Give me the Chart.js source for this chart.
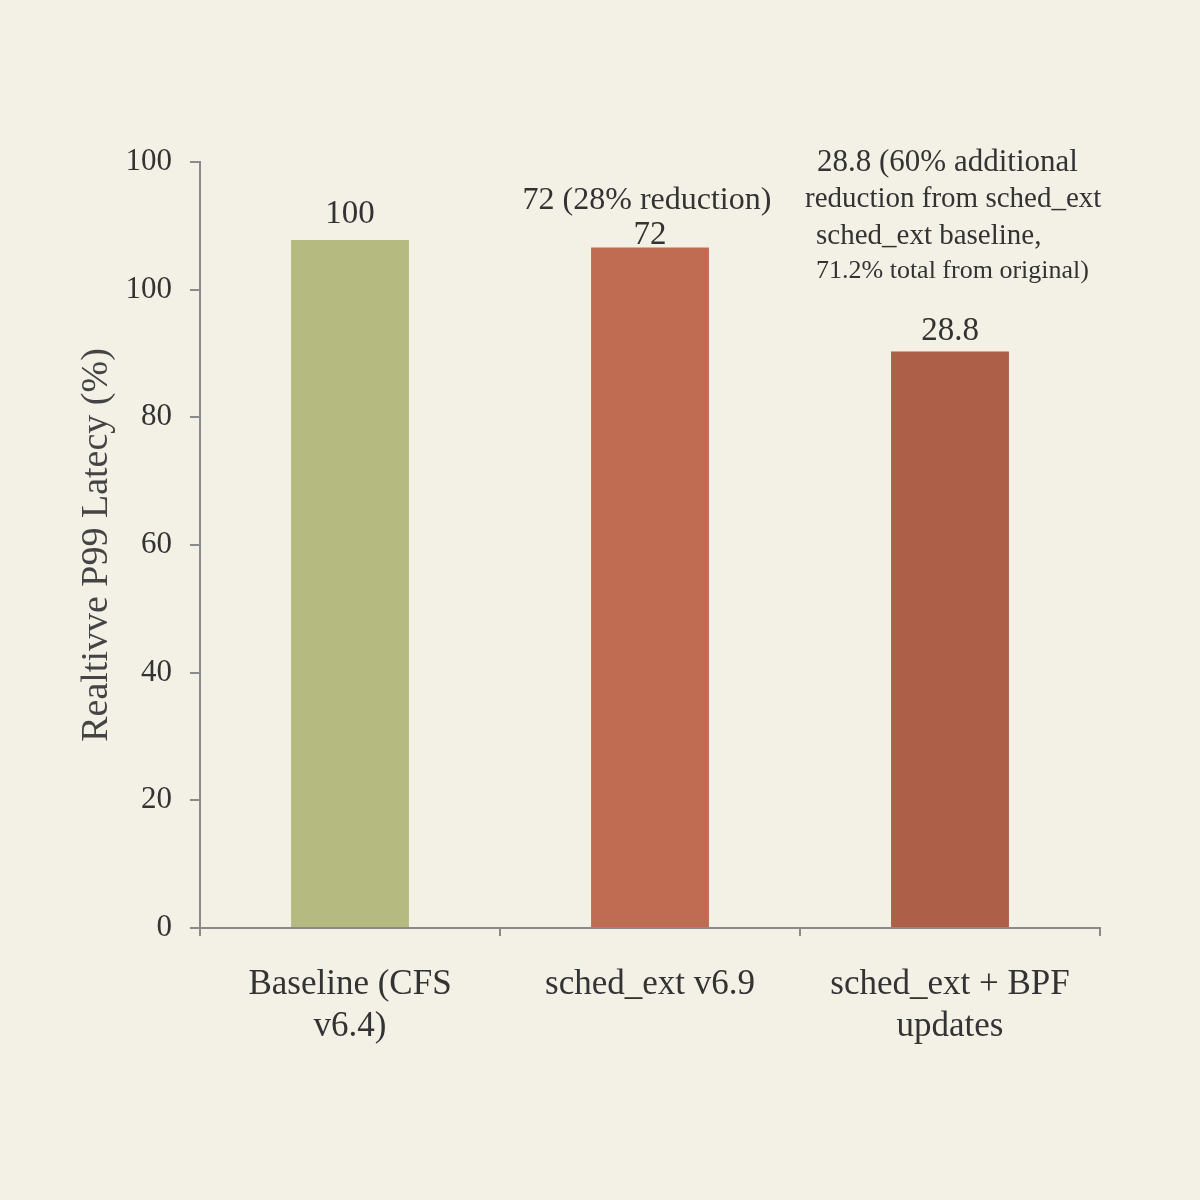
<!DOCTYPE html>
<html>
<head>
<meta charset="utf-8">
<script src="https://cdn.jsdelivr.net/npm/chart.js@4"></script>
<style>
  html, body { margin: 0; padding: 0; background: #f3f0e6; }
  #wrap { width: 1200px; height: 1200px; }
</style>
</head>
<body>
<div id="wrap"><canvas id="c" width="1200" height="1200"></canvas></div>
<script>
const categories = [["Baseline (CFS", "v6.4)"], "sched_ext v6.9", ["sched_ext + BPF", "updates"]];
const barValues = [107.8, 106.6, 90.3];
const valueLabels = ["100", "72", "28.8"];
const yTickValues = [0, 20, 40, 60, 80, 100, 120];
const yTickLabels = ["0", "20", "40", "60", "80", "100", "100"];
const noteSecond = ["72 (28% reduction)"];
const noteThird = ["28.8 (60% additional", "reduction from sched_ext", "sched_ext baseline,", "71.2% total from original)"];
const barColors = ["#b5ba80", "#c06c53", "#ad5f47"];

const SERIF = "'Liberation Serif', 'DejaVu Serif', serif";
const TEXT = "#333333";

const notesPlugin = {
  id: 'notes',
  afterDatasetsDraw(chart) {
    const ctx = chart.ctx;
    const meta = chart.getDatasetMeta(0);
    ctx.save();
    ctx.fillStyle = TEXT;
    ctx.textBaseline = 'middle';
    ctx.textAlign = 'center';
    ctx.font = "33px " + SERIF;
    const offs = [26, 12, 20];
    meta.data.forEach((bar, i) => {
      ctx.fillText(valueLabels[i], bar.x, bar.y - offs[i]);
    });
    const b1 = meta.data[1];
    ctx.font = "32px " + SERIF;
    ctx.fillText(noteSecond[0], b1.x - 3, b1.y - 47);
    const b2 = meta.data[2];
    const lines = [
      {dx: -133, dy: -189, size: 31},
      {dx: -145, dy: -152, size: 29},
      {dx: -134, dy: -115, size: 29},
      {dx: -134, dy: -80, size: 26}
    ];
    ctx.textAlign = 'left';
    lines.forEach((l, i) => {
      ctx.font = l.size + "px " + SERIF;
      ctx.fillText(noteThird[i], b2.x + l.dx, b2.y + l.dy);
    });
    ctx.restore();
  }
};

new Chart(document.getElementById('c'), {
  type: 'bar',
  data: {
    labels: categories,
    datasets: [{
      data: barValues,
      backgroundColor: barColors,
      borderWidth: 0,
      barPercentage: 0.393,
      categoryPercentage: 1.0
    }]
  },
  options: {
    responsive: false,
    animation: false,
    devicePixelRatio: 1,
    layout: { padding: { left: 60, top: 162, right: 100, bottom: 40 } },
    plugins: { legend: { display: false }, tooltip: { enabled: false } },
    scales: {
      x: {
        grid: { display: true, drawOnChartArea: false, drawTicks: true, tickLength: 8, color: '#8a8a8a', lineWidth: 2, offset: true },
        border: { display: true, color: '#8a8a8a', width: 2 },
        ticks: { color: TEXT, font: { family: SERIF, size: 35, lineHeight: 1.2 }, padding: 28, maxRotation: 0 },
        afterFit(s) { s.height = 1200 - 928 - 40; }
      },
      y: {
        min: 0, max: 120,
        afterBuildTicks(s) { s.ticks = yTickValues.map(v => ({ value: v })); },
        grid: { display: true, drawOnChartArea: false, drawTicks: true, tickLength: 10, color: '#8a8a8a', lineWidth: 2 },
        border: { display: true, color: '#8a8a8a', width: 2 },
        ticks: {
          color: TEXT, font: { family: SERIF, size: 31 }, padding: 18,
          callback(v) { const i = yTickValues.indexOf(v); return i >= 0 ? yTickLabels[i] : ''; }
        },
        title: { display: true, text: 'Realtivve P99 Latecy (%)', color: '#444', font: { family: SERIF, size: 38 }, padding: { top: 14, bottom: 0 } },
        afterFit(s) { s.width = 140; }
      }
    }
  },
  plugins: [{
    id: 'bg',
    beforeDraw(chart) {
      const c = chart.ctx; c.save(); c.fillStyle = '#f3f0e6'; c.fillRect(0, 0, chart.width, chart.height); c.restore();
    }
  }, notesPlugin]
});
</script>
</body>
</html>
